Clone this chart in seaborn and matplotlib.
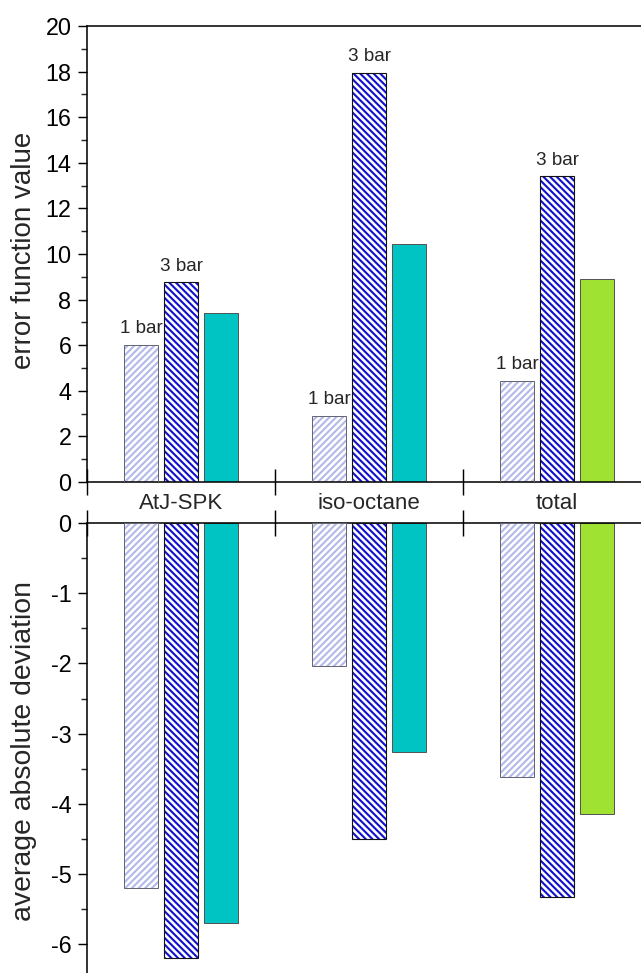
import numpy as np
import pandas as pd
import seaborn as sns
import matplotlib
matplotlib.use("Agg")
import matplotlib.pyplot as plt
from matplotlib.patches import Rectangle
from matplotlib.transforms import blended_transform_factory
from matplotlib.ticker import MultipleLocator

# ---------------- data ----------------
categories = ["AtJ-SPK", "iso-octane", "total"]
series = ["1 bar", "3 bar", "model"]
err_1bar = [6.0, 2.9, 4.45]
err_3bar = [8.75, 17.95, 13.4]
err_model = [7.4, 10.45, 8.92]
aad_1bar = [-5.2, -2.03, -3.62]
aad_3bar = [-6.2, -4.5, -5.33]
aad_model = [-5.7, -3.26, -4.15]
top_ticks = [0, 2, 4, 6, 8, 10, 12, 14, 16, 18, 20]
bottom_ticks = [0, -1, -2, -3, -4, -5, -6]
ylabel_top = "error function value"
ylabel_bottom = "average absolute deviation"

def long_frame(v1, v3, vm):
    rows = []
    for s, vals in zip(series, [v1, v3, vm]):
        for c, v in zip(categories, vals):
            rows.append({"category": c, "series": s, "value": v})
    return pd.DataFrame(rows)

df_top = long_frame(err_1bar, err_3bar, err_model)
df_bot = long_frame(aad_1bar, aad_3bar, aad_model)

# ---------------- style ----------------
sns.set_style("ticks")
plt.rcParams["font.family"] = ["Liberation Sans", "DejaVu Sans"]
plt.rcParams["axes.unicode_minus"] = False
plt.rcParams["hatch.linewidth"] = 1.9

DPI = 80
fig = plt.figure(figsize=(641 / DPI, 973 / DPI), dpi=DPI)
ax_top = fig.add_axes([87 / 641, 1 - 482 / 973, 1 - 87 / 641, (482 - 26) / 973])
ax_bot = fig.add_axes([87 / 641, 0.0, 1 - 87 / 641, 1 - 523 / 973])

TEAL = "#00C4C4"
GREEN = "#A0E232"
LIGHT_HATCH = "#B3BAEA"
DARK_HATCH = "#1111CC"

for ax, df in [(ax_top, df_top), (ax_bot, df_bot)]:
    sns.barplot(data=df, x="category", y="value", hue="series",
                order=categories, hue_order=series,
                palette=["white", "white", TEAL], width=0.64, gap=0.15,
                errorbar=None, legend=False, ax=ax, zorder=2)
    c1, c3, cm = ax.containers[:3]
    for p in c1:
        p.set_facecolor("white")
        p.set_hatch("////")
        p.set_edgecolor(LIGHT_HATCH)
        p.set_linewidth(0)
    for p in c3:
        p.set_facecolor("white")
        p.set_hatch("\\\\\\\\")
        p.set_edgecolor(DARK_HATCH)
        p.set_linewidth(0)
    for i, p in enumerate(cm):
        p.set_facecolor(GREEN if categories[i] == "total" else TEAL)
        p.set_edgecolor("#555555")
        p.set_linewidth(0.9)
    # outlines for hatched bars
    for cont, ec, lw in [(c1, "#666677", 0.9), (c3, "#111111", 1.0)]:
        for p in cont:
            ax.add_patch(Rectangle((p.get_x(), p.get_y()), p.get_width(), p.get_height(),
                                   fill=False, edgecolor=ec, linewidth=lw, zorder=3))
    ax.set_xlim(-0.5, -0.5 + (641 - 87) / 188)
    ax.set_xlabel("")
    ax.set_xticks([-0.5, 0.5, 1.5])
    ax.set_xticklabels([])
    ax.tick_params(axis="x", direction="inout", length=23.5, width=1.3, color="black")
    ax.tick_params(axis="y", which="major", direction="out", length=8, width=1.3,
                   labelsize=21, pad=6, colors="black")
    ax.tick_params(axis="y", which="minor", direction="out", length=5, width=1.3)
    for s in ax.spines.values():
        s.set_linewidth(1.4)
        s.set_color("black")
    ax.spines["right"].set_visible(False)

# top axes
ax_top.set_ylim(0, 20)
ax_top.set_yticks(top_ticks)
ax_top.yaxis.set_minor_locator(MultipleLocator(1))
ax_top.set_ylabel(ylabel_top, fontsize=25)
ax_top.yaxis.set_label_coords(-0.090, 0.509)
ax_top.bar_label(ax_top.containers[0], labels=["1 bar"] * 3, padding=7, fontsize=17)
ax_top.bar_label(ax_top.containers[1], labels=["3 bar"] * 3, padding=7, fontsize=17)

# bottom axes
ax_bot.set_ylim(-(973 - 523) / 70.2, 0)
ax_bot.set_yticks(bottom_ticks)
ax_bot.yaxis.set_minor_locator(MultipleLocator(0.5))
ax_bot.set_ylabel(ylabel_bottom, fontsize=25.5)
ax_bot.yaxis.set_label_coords(-0.090, 0.493)
ax_bot.xaxis.set_ticks_position("top")
ax_bot.spines["bottom"].set_visible(False)
ax_bot.spines["top"].set_visible(True)

# category labels between panels
trans = blended_transform_factory(ax_top.transData, fig.transFigure)
for i, c in enumerate(categories):
    fig.text(i, 1 - 503 / 973, c, transform=trans, ha="center", va="center", fontsize=20)

fig.savefig("out.png", dpi=DPI)
